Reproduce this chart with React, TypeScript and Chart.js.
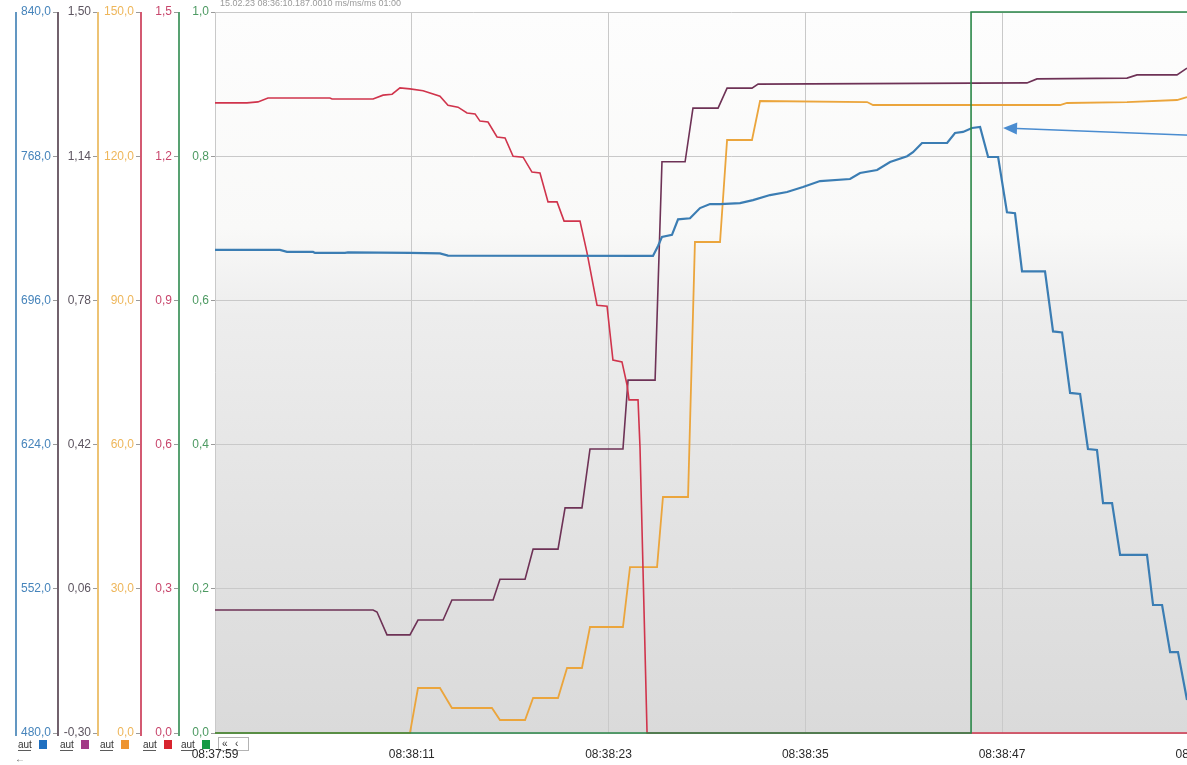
import React, { useEffect, useRef } from "react";
import { Chart, registerables } from "chart.js";
Chart.register(...registerables);

// ---- tick labels ----
const timeTickSeconds = [0, 12, 24, 36, 48, 60];
const timeTickLabels = ["08:37:59", "08:38:11", "08:38:23", "08:38:35", "08:38:47", "08:38:59"];

const blueTickValues = [480, 552, 624, 696, 768, 840];
const blueTickLabels = ["480,0", "552,0", "624,0", "696,0", "768,0", "840,0"];
const purpleTickValues = [-0.3, 0.06, 0.42, 0.78, 1.14, 1.5];
const purpleTickLabels = ["-0,30", "0,06", "0,42", "0,78", "1,14", "1,50"];
const orangeTickValues = [0, 30, 60, 90, 120, 150];
const orangeTickLabels = ["0,0", "30,0", "60,0", "90,0", "120,0", "150,0"];
const redTickValues = [0, 0.3, 0.6, 0.9, 1.2, 1.5];
const redTickLabels = ["0,0", "0,3", "0,6", "0,9", "1,2", "1,5"];
const greenTickValues = [0, 0.2, 0.4, 0.6, 0.8, 1.0];
const greenTickLabels = ["0,0", "0,2", "0,4", "0,6", "0,8", "1,0"];

// ---- series (time in seconds after 08:37:59) ----
const blueTime = [0, 3.96, 4.39, 5.98, 6.1, 7.93, 8.11, 11.89, 13.72, 14.21, 26.71, 27.02, 27.26, 27.87, 28.24, 28.97, 29.58, 30.19, 30.8, 32.02, 32.81, 33.85, 34.89, 35.86, 36.9, 38.73, 39.34, 40.38, 41.17, 42.21, 42.57, 43.12, 44.65, 45.13, 45.62, 46.17, 46.66, 47.15, 47.76, 48.3, 48.79, 49.22, 50.62, 51.11, 51.66, 52.15, 52.76, 53.24, 53.79, 54.16, 54.71, 55.2, 56.84, 57.21, 57.76, 58.25, 58.73, 59.28];
const blueValues = [721.2, 721.2, 720.2, 720.2, 719.7, 719.7, 720.0, 719.7, 719.5, 718.4, 718.2, 723.2, 727.7, 728.7, 736.5, 737.0, 742.1, 744.1, 744.1, 744.6, 746.1, 748.6, 750.1, 752.6, 755.6, 756.6, 759.6, 761.1, 765.1, 768.0, 770.0, 774.6, 774.6, 779.6, 780.1, 782.1, 782.6, 767.6, 767.6, 740.0, 739.5, 710.5, 710.5, 680.5, 680.0, 649.8, 649.3, 621.8, 621.3, 594.8, 594.8, 568.9, 568.9, 543.9, 543.9, 520.4, 520.4, 496.5];

const purpleTime = [0, 9.64, 9.88, 10.49, 11.89, 12.38, 13.91, 14.45, 16.96, 17.38, 18.91, 19.4, 20.92, 21.35, 22.38, 22.87, 24.88, 25.19, 26.84, 27.26, 28.67, 29.15, 30.68, 31.23, 32.75, 33.12, 49.52, 50.13, 55.62, 56.23, 58.67, 59.28];
const purpleValues = [0.007, 0.007, 0.002, -0.055, -0.055, -0.018, -0.018, 0.032, 0.032, 0.084, 0.084, 0.159, 0.159, 0.262, 0.262, 0.409, 0.409, 0.581, 0.581, 1.126, 1.126, 1.26, 1.26, 1.31, 1.31, 1.32, 1.323, 1.333, 1.335, 1.343, 1.343, 1.36];

const orangeTime = [0, 11.89, 12.38, 13.72, 14.45, 16.89, 17.38, 18.91, 19.4, 20.92, 21.47, 22.38, 22.87, 24.88, 25.31, 26.96, 27.32, 28.85, 29.27, 30.8, 31.23, 32.75, 33.24, 39.77, 40.13, 51.54, 51.96, 55.62, 58.67, 59.28];
const orangeValues = [0, 0, 9.36, 9.36, 5.2, 5.2, 2.7, 2.7, 7.28, 7.28, 13.52, 13.52, 22.05, 22.05, 34.53, 34.53, 49.1, 49.1, 102.15, 102.15, 123.37, 123.37, 131.48, 131.27, 130.65, 130.65, 131.07, 131.27, 131.69, 132.31];

const redTime = [0, 1.95, 2.62, 3.23, 7.01, 7.14, 9.64, 10.25, 10.8, 11.28, 11.89, 12.69, 13.72, 14.21, 14.82, 15.37, 15.86, 16.16, 16.65, 17.2, 17.69, 18.18, 18.79, 19.33, 19.82, 20.31, 20.86, 21.29, 22.26, 22.69, 23.3, 23.91, 24.27, 24.82, 25.13, 25.25, 25.8, 25.92, 26.35, 59.28];
const redValues = [1.311, 1.311, 1.313, 1.321, 1.321, 1.319, 1.319, 1.327, 1.329, 1.342, 1.34, 1.336, 1.325, 1.306, 1.302, 1.29, 1.288, 1.273, 1.271, 1.24, 1.238, 1.2, 1.198, 1.167, 1.165, 1.105, 1.105, 1.065, 1.065, 0.999, 0.89, 0.888, 0.776, 0.772, 0.724, 0.693, 0.693, 0.594, 0, 0];

const greenTime = [0, 46.11, 46.11, 59.28];
const greenValues = [0, 0, 1, 1];

// annotation arrow pointing at the blue peak (x in s, y on blue axis)
const arrowTip = [48.06, 782.1];
const arrowTail = [59.5, 778.4];

const headerText = "15.02.23 08:36:10.187.0010 ms/ms/ms 01:00";

const COLORS = {
  blue: "#3b7db3",
  purple: "#6e3256",
  orange: "#eba53c",
  red: "#d0344c",
  green: "#2a8748",
};

const AXES = [
  { id: "yBlue", values: blueTickValues, labels: blueTickLabels, width: 42, line: COLORS.blue, text: "#4684bb", box: "#1f6fc0" },
  { id: "yPurple", values: purpleTickValues, labels: purpleTickLabels, width: 40, line: "#4e3a48", text: "#5d5560", box: "#a23a86" },
  { id: "yOrange", values: orangeTickValues, labels: orangeTickLabels, width: 43, line: "#e9b452", text: "#eeb65a", box: "#ee9430" },
  { id: "yRed", values: redTickValues, labels: redTickLabels, width: 38, line: "#c8304e", text: "#c8466c", box: "#d8242e" },
  { id: "yGreen", values: greenTickValues, labels: greenTickLabels, width: 37, line: "#2e8a4e", text: "#4d9a62", box: "#149a44" },
];

function pts(t: number[], v: number[]) {
  return t.map((x, i) => ({ x, y: v[i] }));
}

const bgPlugin = {
  id: "bgGradient",
  beforeDraw(chart: any) {
    const { ctx, chartArea: a } = chart;
    const g = ctx.createLinearGradient(0, a.top, 0, a.bottom);
    g.addColorStop(0, "#fdfdfd");
    g.addColorStop(0.3, "#f9f9f8");
    g.addColorStop(0.42, "#ededed");
    g.addColorStop(0.7, "#e3e3e3");
    g.addColorStop(1, "#dadada");
    ctx.save();
    ctx.fillStyle = g;
    ctx.fillRect(a.left, a.top, a.right - a.left, a.bottom - a.top);
    ctx.restore();
  },
};

const decoPlugin = {
  id: "deco",
  afterDraw(chart: any) {
    const { ctx, chartArea: a } = chart;
    ctx.save();
    // axis vertical lines and "aut" boxes
    AXES.forEach((ax) => {
      const s = chart.scales[ax.id];
      const x = s.left + 1;
      ctx.strokeStyle = ax.line;
      ctx.lineWidth = 1.6;
      ctx.beginPath();
      ctx.moveTo(x, a.top);
      ctx.lineTo(x, a.bottom + 3);
      ctx.stroke();
      ctx.fillStyle = "#333";
      ctx.font = "10px 'Liberation Sans', Arial, sans-serif";
      ctx.textBaseline = "middle";
      ctx.textAlign = "left";
      ctx.fillText("aut", s.left + 3, a.bottom + 12);
      ctx.fillRect(s.left + 3, a.bottom + 17, 13, 0.8);
      ctx.fillStyle = ax.box;
      ctx.fillRect(s.left + 24, a.bottom + 7, 8, 9);
    });
    // navigation buttons
    ctx.strokeStyle = "#666";
    ctx.lineWidth = 1;
    ctx.setLineDash([1, 1]);
    ctx.strokeRect(a.left + 3.5, a.bottom + 4.5, 30, 13);
    ctx.setLineDash([]);
    ctx.fillStyle = "#333";
    ctx.font = "10px 'Liberation Sans', Arial, sans-serif";
    ctx.fillText("\u00ab", a.left + 7, a.bottom + 11);
    ctx.fillText("\u2039", a.left + 20, a.bottom + 11);
    ctx.fillStyle = "#666";
    ctx.fillText("\u2190", 15, a.bottom + 26);
    // header
    ctx.fillStyle = "#9a9a9a";
    ctx.font = "9px 'Liberation Sans', Arial, sans-serif";
    ctx.textBaseline = "middle";
    ctx.fillText(headerText, a.left + 5, 4);
    ctx.restore();
  },
  afterDatasetsDraw(chart: any) {
    const { ctx } = chart;
    const xs = chart.scales.x;
    const ys = chart.scales.yBlue;
    const x1 = xs.getPixelForValue(arrowTail[0]);
    const y1 = ys.getPixelForValue(arrowTail[1]);
    const x2 = xs.getPixelForValue(arrowTip[0]);
    const y2 = ys.getPixelForValue(arrowTip[1]);
    const ang = Math.atan2(y2 - y1, x2 - x1);
    const L = 14, W = 6;
    ctx.save();
    ctx.strokeStyle = "#4a8cd0";
    ctx.fillStyle = "#4a8cd0";
    ctx.lineWidth = 1.5;
    ctx.beginPath();
    ctx.moveTo(x1, y1);
    ctx.lineTo(x2 - L * Math.cos(ang), y2 - L * Math.sin(ang));
    ctx.stroke();
    ctx.beginPath();
    ctx.moveTo(x2, y2);
    ctx.lineTo(x2 - L * Math.cos(ang) + W * Math.sin(ang), y2 - L * Math.sin(ang) - W * Math.cos(ang));
    ctx.lineTo(x2 - L * Math.cos(ang) - W * Math.sin(ang), y2 - L * Math.sin(ang) + W * Math.cos(ang));
    ctx.closePath();
    ctx.fill();
    ctx.restore();
  },
};

function makeY(ax: any, min: number, max: number, isGrid: boolean) {
  return {
    type: "linear",
    position: "left",
    min,
    max,
    afterBuildTicks: (scale: any) => {
      scale.ticks = ax.values.map((v: number) => ({ value: v }));
    },
    afterFit: (scale: any) => {
      scale.width = ax.width;
    },
    border: { display: false },
    grid: {
      drawOnChartArea: isGrid,
      drawTicks: true,
      tickLength: 4,
      color: "#c9c9c9",
      tickColor: "#9a9a9a",
      lineWidth: 1,
    },
    ticks: {
      color: ax.text,
      padding: 2,
      font: { size: 12, family: "'Liberation Sans', Arial, sans-serif" },
      callback: (_v: any, i: number) => ax.labels[i],
    },
  };
}

export default function App() {
  const ref = useRef<HTMLCanvasElement>(null);
  useEffect(() => {
    if (!ref.current) return;
    const chart = new Chart(ref.current, {
      type: "line",
      data: {
        datasets: [
          { label: "green", data: pts(greenTime, greenValues), yAxisID: "yGreen", borderColor: COLORS.green, borderWidth: 1.6, order: 0 },
          { label: "blue", data: pts(blueTime, blueValues), yAxisID: "yBlue", borderColor: COLORS.blue, borderWidth: 2.2, order: 1 },
          { label: "red", data: pts(redTime, redValues), yAxisID: "yRed", borderColor: COLORS.red, borderWidth: 1.6, order: 2 },
          { label: "purple", data: pts(purpleTime, purpleValues), yAxisID: "yPurple", borderColor: COLORS.purple, borderWidth: 1.6, order: 3 },
          { label: "orange", data: pts(orangeTime, orangeValues), yAxisID: "yOrange", borderColor: COLORS.orange, borderWidth: 1.8, order: 4 },
        ].map((d) => ({ ...d, pointRadius: 0, tension: 0, fill: false, clip: 4 })) as any,
      },
      options: {
        responsive: false,
        animation: false,
        devicePixelRatio: 1,
        layout: { padding: { left: 15, top: 12, right: 12, bottom: 0 } },
        plugins: { legend: { display: false }, tooltip: { enabled: false }, title: { display: false } },
        scales: {
          x: {
            type: "linear",
            min: 0,
            max: 63,
            afterBuildTicks: (scale: any) => {
              scale.ticks = timeTickSeconds.map((v) => ({ value: v }));
            },
            afterFit: (scale: any) => {
              scale.height = 32;
            },
            border: { display: false },
            grid: { color: "#c9c9c9", drawTicks: false },
            ticks: {
              color: "#2a2a2a",
              padding: 14,
              maxRotation: 0,
              autoSkip: false,
              font: { size: 12, family: "'Liberation Sans', Arial, sans-serif" },
              callback: (_v: any, i: number) => timeTickLabels[i],
            },
          },
          yGreen: makeY(AXES[4], 0, 1, true),
          yRed: makeY(AXES[3], 0, 1.5, false),
          yOrange: makeY(AXES[2], 0, 150, false),
          yPurple: makeY(AXES[1], -0.3, 1.5, false),
          yBlue: makeY(AXES[0], 480, 840, false),
        } as any,
      },
      plugins: [bgPlugin, decoPlugin],
    });
    return () => chart.destroy();
  }, []);
  return (
    <div style={{ position: "fixed", left: 0, top: 0, width: 1187, height: 765, overflow: "hidden", background: "#fff" }}>
      <canvas ref={ref} width={1260} height={765} style={{ display: "block", width: 1260, height: 765 }} />
    </div>
  );
}
